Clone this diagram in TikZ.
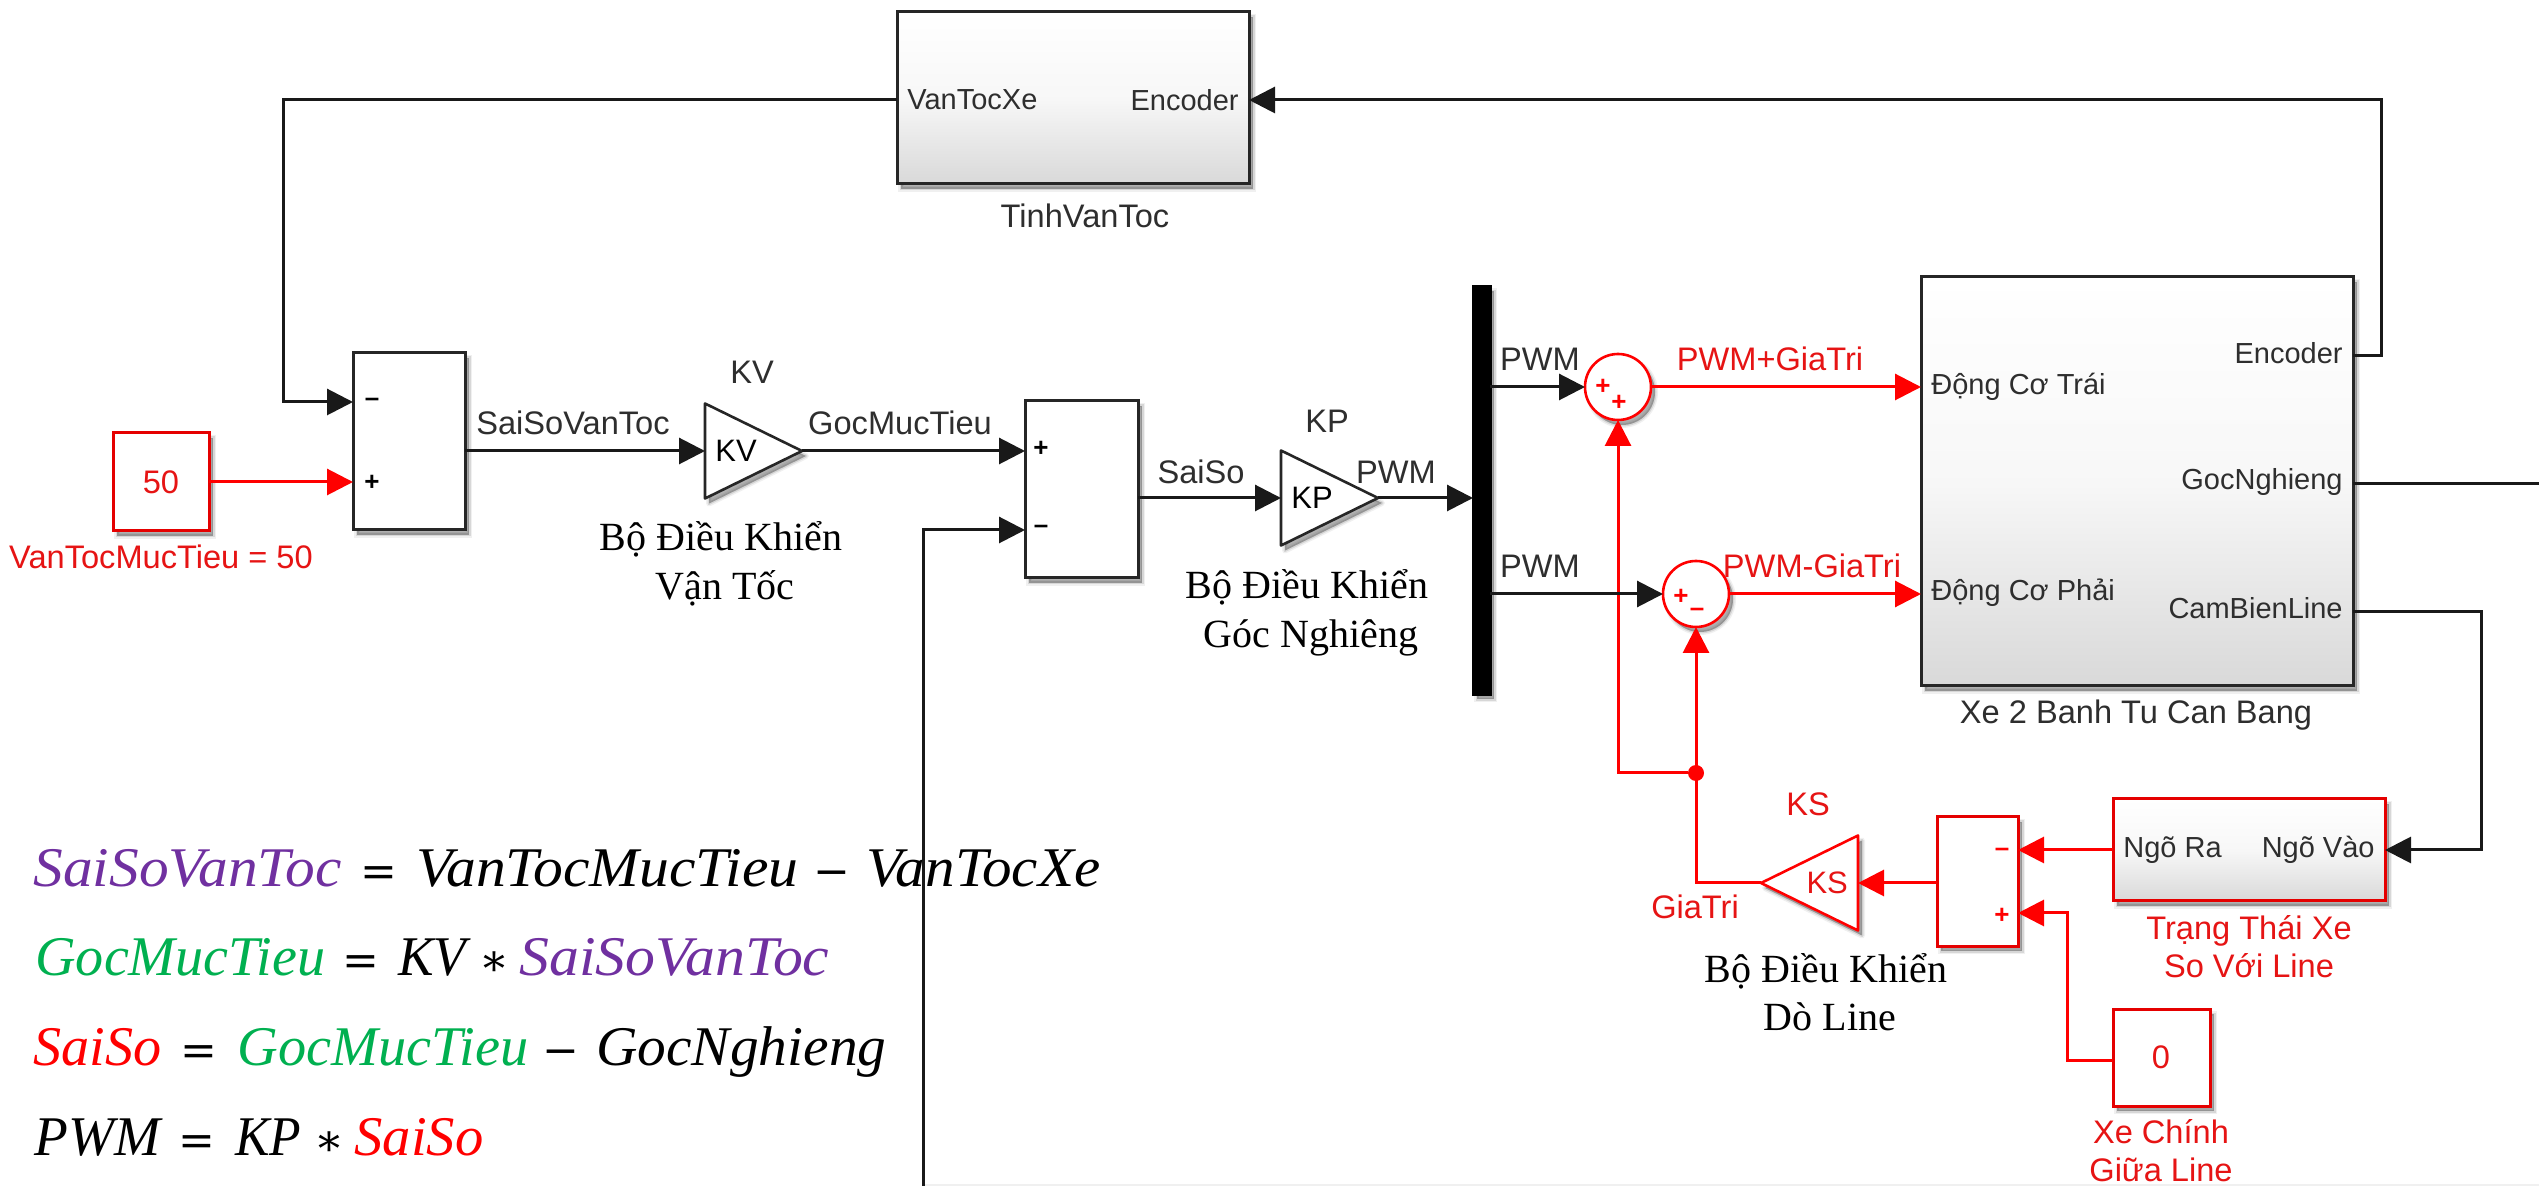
\documentclass[tikz,border=0pt]{standalone}
\usepackage{fontspec}
\usepackage{graphicx}
\setmainfont{Liberation Serif}
\setsansfont{Liberation Sans}
\newfontfamily\opfont{DejaVu Serif}
\usetikzlibrary{arrows.meta,shapes.geometric,shadows}
\definecolor{sred}{HTML}{FF0000}
\definecolor{stext}{HTML}{2E2E2E}
\definecolor{rtext}{HTML}{E61414}
\definecolor{eqpurple}{HTML}{7030A0}
\definecolor{eqgreen}{HTML}{00B050}
\newcommand\eqw[2]{\resizebox{#1pt}{\height}{\itshape #2}}
\tikzset{
  softshadow/.style={
    general shadow={shadow xshift=2pt,shadow yshift=-2.5pt,fill=black,draw=black,line width=3pt,opacity=.06},
    general shadow={shadow xshift=2pt,shadow yshift=-2.5pt,fill=black,draw=black,line width=1.5pt,opacity=.1},
    general shadow={shadow xshift=2pt,shadow yshift=-2.5pt,fill=black,draw=none,opacity=.18}},
  boxbase/.style={rectangle,outer sep=0pt,inner sep=0pt,line width=1.5pt,softshadow},
  sumbox/.style={boxbase,draw=black!85,fill=white},
  subsys/.style={boxbase,draw=black!85,top color=white,bottom color=white!85!black,middle color=white!97!black},
  redbox/.style={boxbase,draw=sred!90!black,fill=white},
  redsub/.style={boxbase,draw=sred!90!black,top color=white,bottom color=white!85!black,middle color=white!97!black},
  gainb/.style={isosceles triangle,isosceles triangle stretches,minimum width=47.5pt,minimum height=48.5pt,
     inner sep=0pt,outer sep=0pt,line width=1.3pt,line join=round,fill=white,softshadow,anchor=lower side,
     font=\sffamily\fontsize{15.5}{18}\selectfont},
  sumc/.style={circle,minimum size=33pt,inner sep=0pt,outer sep=0pt,draw=sred,line width=1.3pt,fill=white,softshadow},
  lbl/.style={inner sep=0pt,text=stext,font=\sffamily\fontsize{16.3}{19}\selectfont},
  rlbl/.style={lbl,text=rtext,align=center},
  port/.style={inner sep=0pt,text=stext,font=\sffamily\fontsize{14.5}{17}\selectfont},
  sgn/.style={inner sep=0pt,font=\sffamily\bfseries\fontsize{13}{15}\selectfont},
  ctrl/.style={inner sep=0pt,align=center,text=black,font=\rmfamily\fontsize{20}{24.2}\selectfont},
  sig/.style={line width=1.5pt,draw=black!90,-{Triangle[length=13pt,width=13pt]},shorten >=0pt},
  wire/.style={line width=1.5pt,draw=black!90},
  rsig/.style={line width=1.5pt,draw=sred,-{Triangle[length=13pt,width=13pt,fill=sred]}},
  eqn/.style={anchor=base west,inner sep=0pt,font=\rmfamily\fontsize{28}{30}\selectfont},
  eqop/.style={anchor=base,inner sep=0pt,font=\opfont\fontsize{22}{24}\selectfont},
}
\begin{document}
\begin{tikzpicture}[x=.5pt,y=-.5pt]
\useasboundingbox (0,0) rectangle (2539,1186);
\fill[white] (0,0) rectangle (2539,1186);
\draw[line width=.8pt,draw=black!6] (923,1185) -- (2539,1185);

% blocks
\node[subsys,minimum width=176pt,minimum height=86pt] (tinh) at (1073,98) {};
\node[port,anchor=west] (tinhL) at (907,100) {VanTocXe};
\node[port,anchor=east] (tinhR) at (1239,100) {Encoder};
\node[lbl] (tinhN) at (1085,216) {TinhVanToc};

\node[redbox,minimum width=48pt,minimum height=49pt] (c50) at (161,482) {};
\node[lbl,text=rtext] (c50t) at (161,482) {50};
\node[rlbl] (c50n) at (161,557) {VanTocMucTieu = 50};

\node[sumbox,minimum width=56pt,minimum height=88.5pt] (sum1) at (409,441.5) {};
\node[sgn] (s1m) at (372,402) {–};
\node[sgn] (s1p) at (372,483) {+};

\node[gainb,draw=black!85] (kv) at (705,451) {KV};
\node[lbl] (kvn) at (752,372) {KV};
\node[ctrl] (c1n) at (721,564) {Bộ Điều Khiển\\\hspace*{4pt}Vận Tốc};

\node[sumbox,minimum width=56.5pt,minimum height=88.5pt] (sum2) at (1081.5,489.5) {};
\node[sgn] (s2p) at (1041,449) {+};
\node[sgn] (s2m) at (1041,529) {–};

\node[gainb,draw=black!85] (kp) at (1281,498) {KP};
\node[lbl] (kpn) at (1327,421) {KP};
\node[ctrl] (c2n) at (1307,613) {Bộ Điều Khiển\\\hspace*{4pt}Góc Nghiêng};

\node[boxbase,fill=black,draw=black,minimum width=8.5pt,minimum height=204pt] (mux) at (1481.5,490.5) {};

\node[sumc] (c1) at (1618,387) {};
\node[sgn,text=sred] (c1a) at (1603,387) {+};
\node[sgn,text=sred] (c1b) at (1619,403) {+};
\node[sumc] (c2) at (1696,594) {};
\node[sgn,text=sred] (c2a) at (1681,597) {+};
\node[sgn,text=sred] (c2b) at (1697,612) {–};

\node[subsys,minimum width=216pt,minimum height=204.5pt] (xe) at (2137,481.5) {};
\node[port,anchor=west] (xe1) at (1931,387) {Động Cơ Trái};
\node[port,anchor=west] (xe2) at (1931,593) {Động Cơ Phải};
\node[port,anchor=east] (xe3) at (2343,353) {Encoder};
\node[port,anchor=east] (xe4) at (2343,482) {GocNghieng};
\node[port,anchor=east] (xe5) at (2343,608) {CamBienLine};
\node[lbl] (xen) at (2136,715) {Xe 2 Banh Tu Can Bang};

\node[redsub,minimum width=136pt,minimum height=51pt] (trang) at (2249,850) {};
\node[port,anchor=west] (tr1) at (2123,850) {Ngõ Ra};
\node[port,anchor=east] (tr2) at (2375,850) {Ngõ Vào};
\node[rlbl] (trn) at (2249,947) {Trạng Thái Xe\\So Với Line};

\node[redbox,minimum width=40.5pt,minimum height=64.5pt] (sum3) at (1977.5,881.5) {};
\node[sgn,text=sred] (s3m) at (2002,852) {–};
\node[sgn,text=sred] (s3p) at (2002,916) {+};

\node[gainb,draw=sred,shape border rotate=180,text=rtext] (ks) at (1858,883) {KS};
\node[lbl,text=rtext] (ksn) at (1808,804) {KS};
\node[lbl,text=rtext] (gia) at (1695,907) {GiaTri};
\node[ctrl] (c3n) at (1826,992) {Bộ Điều Khiển\\\hspace*{4pt}Dò Line};

\node[redbox,minimum width=48.5pt,minimum height=48.5pt] (zero) at (2161.5,1057.5) {};
\node[lbl,text=rtext] (zerot) at (2161,1057) {0};
\node[rlbl] (zeron) at (2161,1151) {Xe Chính\\Giữa Line};

% signal labels
\node[lbl] (l1) at (573,423) {SaiSoVanToc};
\node[lbl] (l2) at (900,423) {GocMucTieu};
\node[lbl] (l3) at (1201,472) {SaiSo};
\node[lbl] (l4) at (1396,472) {PWM};
\node[lbl] (l5) at (1540,359) {PWM};
\node[lbl] (l6) at (1540,566) {PWM};
\node[lbl,text=rtext] (l7) at (1770,359) {PWM+GiaTri};
\node[lbl,text=rtext] (l8) at (1812,566) {PWM-GiaTri};

% free points
\coordinate (fbA) at (283,402);
\coordinate (fbB) at (923,1186);
\coordinate (encC) at (2381,100);
\coordinate (cblC) at (2481,850);
\coordinate (zeroC) at (2067,913);
\coordinate (gout) at (2539,484);
\node[circle,fill=sred,minimum size=8pt,inner sep=0pt] (j) at (1696,773) {};

% black connectors
\draw[sig] (tinh.west |- 0,100) -| (fbA) -- (sum1.west |- fbA);
\draw[sig] (sum1.east |- kv.lower side) -- (kv.lower side);
\draw[sig] (kv.apex) -- (sum2.west |- kv.apex);
\draw[sig] (fbB) |- (sum2.west |- 0,530);
\draw[sig] (sum2.east |- kp.lower side) -- (kp.lower side);
\draw[sig] (kp.apex) -- (mux.west |- kp.apex);
\draw[sig] (mux.east |- c1.west) -- (c1.west);
\draw[wire] (xe.east |- gout) -- (gout);
\draw[sig] (xe.east |- 0,356) -| (encC) -- (tinh.east |- encC);
\draw[sig] (xe.east |- 0,612) -| (cblC) -- (trang.east);

% red connectors
\draw[rsig] (c50.east) -- (sum1.west |- c50.east);
\draw[rsig] (c1.east) -- (xe.west |- c1.east);
\draw[rsig] (c2.east) -- (xe.west |- c2.east);
\draw[rsig] (ks.apex) -| (c2.south);
\draw[rsig] (j) -| (c1.south);
\draw[rsig] (sum3.west |- ks.lower side) -- (ks.lower side);
\draw[rsig] (trang.west) -- (sum3.east |- trang.west);
\draw[rsig] (zero.west |- 0,1060) -| (zeroC) -- (sum3.east |- zeroC);
\draw[sig] (mux.east |- c2.west) -- (c2.west);

% equations
\node[eqn,text=eqpurple] (e1a) at (33,886) {\eqw{154}{SaiSoVanToc}};
\node[eqop] (e1b) at (379,886) {=};
\node[eqn] (e1c) at (416,886) {\eqw{191}{VanTocMucTieu}};
\node[eqop] (e1d) at (832,886) {−};
\node[eqn] (e1e) at (866,886) {\eqw{117}{VanTocXe}};

\node[eqn,text=eqgreen] (e2a) at (35,975) {\eqw{145}{GocMucTieu}};
\node[eqop] (e2b) at (361,975) {=};
\node[eqn] (e2c) at (398,975) {\eqw{34}{KV}};
\node[eqop] (e2d) at (494,975) {∗};
\node[eqn,text=eqpurple] (e2e) at (519,975) {\eqw{155}{SaiSoVanToc}};

\node[eqn,text=sred] (e3a) at (33,1065) {\eqw{64}{SaiSo}};
\node[eqop] (e3b) at (199,1065) {=};
\node[eqn,text=eqgreen] (e3c) at (237,1065) {\eqw{145.5}{GocMucTieu}};
\node[eqop] (e3d) at (561,1065) {−};
\node[eqn] (e3e) at (596,1065) {\eqw{145}{GocNghieng}};

\node[eqn] (e4a) at (34,1155) {\eqw{63}{PWM}};
\node[eqop] (e4b) at (197,1155) {=};
\node[eqn] (e4c) at (235,1155) {\eqw{33}{KP}};
\node[eqop] (e4d) at (329,1155) {∗};
\node[eqn,text=sred] (e4e) at (354,1155) {\eqw{64.5}{SaiSo}};
\end{tikzpicture}
\end{document}
